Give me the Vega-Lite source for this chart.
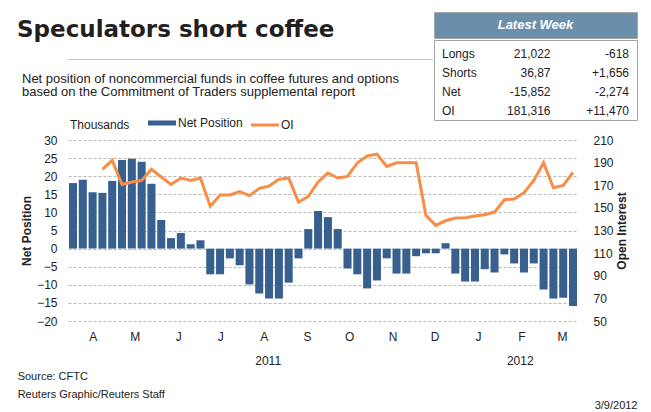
{
  "$schema": "https://vega.github.io/schema/vega-lite/v6.json",
  "background": "white",
  "padding": {"left": 17, "top": 11, "right": 14, "bottom": 3},
  "config": {
    "font": "Liberation Sans",
    "view": {"stroke": null},
    "axis": {"labelColor": "#222222", "titleColor": "#222222", "labelFontSize": 12, "titleFontSize": 12, "labelFont": "Liberation Sans", "titleFont": "Liberation Sans"},
    "legend": {"labelFont": "Liberation Sans", "titleFont": "Liberation Sans"},
    "title": {"font": "Liberation Sans", "color": "#222222"},
    "text": {"font": "Liberation Sans", "color": "#222222"}
  },
  "datasets": {
    "weekly": [
      {"week":"2011-03-15","net":18.1,"oi":null},
      {"week":"2011-03-22","net":19.0,"oi":null},
      {"week":"2011-03-29","net":15.6,"oi":null},
      {"week":"2011-04-05","net":15.4,"oi":184.0},
      {"week":"2011-04-12","net":18.7,"oi":192.0},
      {"week":"2011-04-19","net":24.5,"oi":170.7},
      {"week":"2011-04-26","net":24.8,"oi":172.9},
      {"week":"2011-05-03","net":24.0,"oi":174.3},
      {"week":"2011-05-10","net":17.9,"oi":184.0},
      {"week":"2011-05-17","net":7.9,"oi":177.3},
      {"week":"2011-05-24","net":2.9,"oi":170.7},
      {"week":"2011-05-31","net":4.3,"oi":176.4},
      {"week":"2011-06-07","net":1.2,"oi":174.3},
      {"week":"2011-06-14","net":2.3,"oi":176.4},
      {"week":"2011-06-21","net":-7.1,"oi":151.3},
      {"week":"2011-06-28","net":-7.1,"oi":161.4},
      {"week":"2011-07-05","net":-2.7,"oi":161.4},
      {"week":"2011-07-12","net":-4.6,"oi":164.3},
      {"week":"2011-07-19","net":-9.9,"oi":160.8},
      {"week":"2011-07-26","net":-12.4,"oi":167.3},
      {"week":"2011-08-02","net":-13.8,"oi":169.3},
      {"week":"2011-08-09","net":-13.8,"oi":175.2},
      {"week":"2011-08-16","net":-9.4,"oi":176.4},
      {"week":"2011-08-23","net":-2.7,"oi":155.2},
      {"week":"2011-08-30","net":5.4,"oi":160.1},
      {"week":"2011-09-06","net":10.4,"oi":172.9},
      {"week":"2011-09-13","net":8.7,"oi":180.8},
      {"week":"2011-09-20","net":5.4,"oi":176.4},
      {"week":"2011-09-27","net":-5.5,"oi":177.8},
      {"week":"2011-10-04","net":-7.1,"oi":189.7},
      {"week":"2011-10-11","net":-11.0,"oi":195.9},
      {"week":"2011-10-18","net":-8.8,"oi":197.6},
      {"week":"2011-10-25","net":-2.7,"oi":186.7},
      {"week":"2011-11-01","net":-6.9,"oi":189.9},
      {"week":"2011-11-08","net":-6.9,"oi":189.9},
      {"week":"2011-11-15","net":-2.1,"oi":189.9},
      {"week":"2011-11-22","net":-1.3,"oi":143.3},
      {"week":"2011-11-29","net":-1.3,"oi":134.5},
      {"week":"2011-12-06","net":1.5,"oi":138.6},
      {"week":"2011-12-13","net":-6.9,"oi":141.0},
      {"week":"2011-12-20","net":-9.1,"oi":141.3},
      {"week":"2011-12-27","net":-9.1,"oi":142.8},
      {"week":"2012-01-03","net":-5.7,"oi":144.0},
      {"week":"2012-01-10","net":-6.6,"oi":146.3},
      {"week":"2012-01-17","net":-1.6,"oi":157.2},
      {"week":"2012-01-24","net":-4.1,"oi":157.8},
      {"week":"2012-01-31","net":-6.6,"oi":163.4},
      {"week":"2012-02-07","net":-4.1,"oi":174.3},
      {"week":"2012-02-14","net":-11.3,"oi":189.9},
      {"week":"2012-02-21","net":-13.8,"oi":167.8},
      {"week":"2012-02-28","net":-13.578,"oi":169.846},
      {"week":"2012-03-06","net":-15.852,"oi":181.316}
    ],
    "months": [
      {"month":"2011-04-01"},{"month":"2011-05-01"},{"month":"2011-06-01"},{"month":"2011-07-01"},
      {"month":"2011-08-01"},{"month":"2011-09-01"},{"month":"2011-10-01"},{"month":"2011-11-01"},
      {"month":"2011-12-01"},{"month":"2012-01-01"},{"month":"2012-02-01"},{"month":"2012-03-01"}
    ],
    "latest": [
      {"item":"Longs","level":"21,022","change":"-618"},
      {"item":"Shorts","level":"36,87","change":"+1,656"},
      {"item":"Net","level":"-15,852","change":"-2,274"},
      {"item":"OI","level":"181,316","change":"+11,470"}
    ]
  },
  "title": {"text": "3/9/2012", "orient": "bottom", "anchor": "end", "fontSize": 11, "fontWeight": "normal", "offset": 0},
  "columns": 1,
  "align": "none",
  "spacing": -4,
  "resolve": {"scale": {"color": "independent"}},
  "concat": [
    {
      "align": "none",
      "spacing": 0,
      "concat": [
        {
          "columns": 1,
          "align": "none",
          "spacing": 0,
          "concat": [
            {
              "title": {"text": "Speculators short coffee", "anchor": "start", "font": "DejaVu Sans", "fontSize": 23, "fontWeight": "bold", "offset": -30, "dx": -51, "color": "#231f20"},
              "width": 365,
              "height": 41,
              "data": {"values": [{"k": 1}]},
              "mark": {"type": "text", "opacity": 0},
              "encoding": {"text": {"value": ""}}
            },
            {
              "title": {"text": ["Net position of noncommercial funds in coffee futures and options", "based on the Commitment of Traders supplemental report"], "orient": "bottom", "anchor": "start", "fontSize": 13, "fontWeight": "normal", "lineHeight": 13.5, "offset": 8, "dx": -46},
              "width": 365,
              "height": 1,
              "view": {"fill": "#c4c4c4", "stroke": null},
              "data": {"values": [{"k": 1}]},
              "mark": {"type": "text", "opacity": 0},
              "encoding": {"text": {"value": ""}}
            }
          ]
        },
        {
          "columns": 1,
          "align": "none",
          "spacing": 0,
          "concat": [
            {
              "width": 203,
              "height": 26,
              "view": {"fill": "#6b8fab", "stroke": "#a5a5a5"},
              "data": {"values": [{"heading": "Latest Week"}]},
              "mark": {"type": "text", "fontSize": 13, "fontWeight": "bold", "fontStyle": "italic", "color": "white"},
              "encoding": {"text": {"field": "heading"}}
            },
            {
              "width": 203,
              "height": 80,
              "view": {"fill": "white", "stroke": "#a5a5a5"},
              "data": {"name": "latest"},
              "encoding": {
                "y": {"field": "item", "type": "nominal", "sort": null, "scale": {"type": "point", "padding": 0.62}, "axis": null}
              },
              "layer": [
                {
                  "mark": {"type": "text", "align": "left", "dx": 8, "dy": 2.5, "fontSize": 12},
                  "encoding": {"x": {"datum": "item", "type": "nominal", "scale": {"type": "point", "domain": ["item", "level", "change"], "padding": 0}, "axis": null}, "text": {"field": "item"}}
                },
                {
                  "mark": {"type": "text", "align": "right", "dx": 15, "dy": 2.5, "fontSize": 12},
                  "encoding": {"x": {"datum": "level", "type": "nominal"}, "text": {"field": "level"}}
                },
                {
                  "mark": {"type": "text", "align": "right", "dx": -8, "dy": 2.5, "fontSize": 12},
                  "encoding": {"x": {"datum": "change", "type": "nominal"}, "text": {"field": "change"}}
                }
              ]
            }
          ]
        }
      ]
    },
    {
      "width": 510,
      "height": 181,
      "title": {"text": ["Source: CFTC", "Reuters Graphic/Reuters Staff"], "orient": "bottom", "anchor": "start", "frame": "bounds", "fontSize": 11, "fontWeight": "normal", "lineHeight": 18, "offset": 5, "dx": -3},
      "layer": [
        {
          "data": {"name": "weekly"},
          "mark": {"type": "bar"},
          "encoding": {
            "x": {"field": "week", "type": "ordinal", "scale": {"type": "band", "paddingInner": 0.18, "paddingOuter": 0.1}, "axis": null},
            "y": {"field": "net", "type": "quantitative", "scale": {"domain": [-20, 30], "nice": false},
              "axis": {"orient": "left", "title": "Net Position", "values": [-20,-15,-10,-5,0,5,10,15,20,25,30], "grid": true, "gridColor": "#b8b8b8", "gridDash": [3, 2], "ticks": false, "domain": false, "labelPadding": 11, "titlePadding": 3, "titleFontWeight": "bold", "titleAngle": 270}},
            "color": {"datum": "Net Position", "type": "nominal",
              "scale": {"domain": ["Net Position", "OI"], "range": ["#37608f", "#f88d47"]},
              "legend": {"title": "Thousands", "orient": "none", "legendX": 2, "legendY": -23, "direction": "horizontal", "titleOrient": "left", "titleFontWeight": "normal", "titleFontSize": 12, "titleColor": "#222222", "titlePadding": 26, "labelFontSize": 12, "labelColor": "#222222", "labelOffset": 10, "columnPadding": 2, "padding": 0, "symbolType": "stroke", "symbolSize": 784,
                "encode": {"symbols": {"update": {"stroke": {"signal": "datum.value === 'OI' ? '#f88d47' : '#37608f'"}, "strokeWidth": {"signal": "datum.value === 'OI' ? 3 : 5"}}}}}}
          }
        },
        {
          "data": {"name": "weekly"},
          "mark": {"type": "line", "strokeWidth": 3, "invalid": "break-paths-show-domains"},
          "encoding": {
            "x": {"field": "week", "type": "ordinal", "scale": {"type": "band", "paddingInner": 0.18, "paddingOuter": 0.1}, "axis": null},
            "y": {"field": "oi", "type": "quantitative", "scale": {"domain": [50, 210], "nice": false, "zero": false},
              "axis": {"orient": "right", "title": "Open Interest", "values": [50,70,90,110,130,150,170,190,210], "grid": false, "ticks": false, "domain": false, "labelPadding": 15, "titlePadding": 3, "titleAngle": 270, "titleBaseline": "top", "titleFontWeight": "bold"}},
            "color": {"datum": "OI", "type": "nominal"}
          }
        },
        {
          "data": {"name": "months"},
          "mark": {"type": "tick", "opacity": 0},
          "encoding": {
            "x": {"field": "month", "type": "temporal",
              "scale": {"domain": [{"year": 2011, "month": 3, "date": 11, "hours": 10}, {"year": 2012, "month": 3, "date": 9, "hours": 14}]},
              "axis": {"orient": "bottom", "title": null, "format": "%b", "labelExpr": "substring(datum.label, 0, 1)", "grid": false, "ticks": false, "domain": false, "labelPadding": 10, "labelOffset": -4, "labelFlush": false, "labelOverlap": false,
                "values": [{"year":2011,"month":4,"date":1},{"year":2011,"month":5,"date":1},{"year":2011,"month":6,"date":1},{"year":2011,"month":7,"date":1},{"year":2011,"month":8,"date":1},{"year":2011,"month":9,"date":1},{"year":2011,"month":10,"date":1},{"year":2011,"month":11,"date":1},{"year":2011,"month":12,"date":1},{"year":2012,"month":1,"date":1},{"year":2012,"month":2,"date":1},{"year":2012,"month":3,"date":1}]}},
            "y": {"datum": 0.5, "type": "quantitative", "scale": {"domain": [0, 1]}, "axis": null}
          }
        },
        {
          "data": {"name": "months"},
          "mark": {"type": "tick", "opacity": 0},
          "encoding": {
            "x": {"field": "month", "type": "temporal",
              "scale": {"domain": [{"year": 2011, "month": 3, "date": 11, "hours": 10}, {"year": 2012, "month": 3, "date": 9, "hours": 14}]},
              "axis": {"orient": "bottom", "title": null, "format": "%Y", "grid": false, "ticks": false, "domain": false, "labelPadding": 34, "labelFlush": false, "labelOverlap": false,
                "values": [{"year":2011,"month":8,"date":1},{"year":2012,"month":1,"date":28}]}},
            "y": {"datum": 0.5, "type": "quantitative", "scale": {"domain": [0, 1]}, "axis": null}
          }
        }
      ],
      "resolve": {"scale": {"x": "independent", "y": "independent"}, "axis": {"x": "independent", "y": "independent"}}
    }
  ]
}
